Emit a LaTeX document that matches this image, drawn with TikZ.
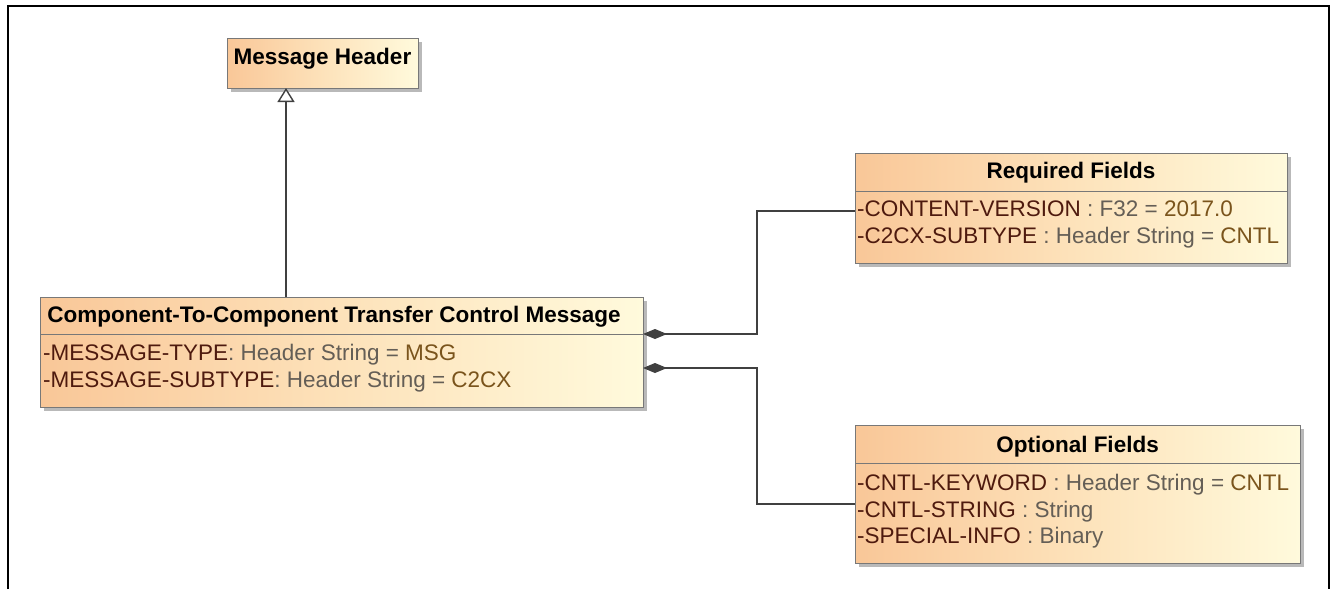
\documentclass[tikz,border=0pt]{standalone}
\usepackage{fontspec}
\setmainfont{Liberation Sans}
\usetikzlibrary{arrows.meta,shadows}
\definecolor{boxorange}{RGB}{249,199,152}
\definecolor{boxmid}{RGB}{253,226,186}
\definecolor{boxpale}{RGB}{255,250,220}
\definecolor{boxline}{RGB}{120,120,120}
\definecolor{linkc}{RGB}{64,64,64}
\definecolor{attrc}{RGB}{78,26,14}
\definecolor{typec}{RGB}{100,94,86}
\definecolor{valc}{RGB}{122,84,28}
\begin{document}
\begin{tikzpicture}[x=1pt,y=-1pt,
  cls/.style={draw=boxline, line width=0.9pt, left color=boxorange, right color=boxpale, middle color=boxmid,
    inner sep=0pt, outer sep=0pt, anchor=north west,
    drop shadow={shadow xshift=3.5pt, shadow yshift=-3.5pt, fill=black!50, opacity=0.55}},
  ttl/.style={font=\fontsize{22.5}{26}\selectfont\bfseries, inner sep=0pt, anchor=base},
  att/.style={font=\fontsize{22.5}{26}\selectfont, inner sep=0pt, anchor=base west},
  divl/.style={draw=boxline, line width=0.9pt},
  link/.style={draw=linkc, line width=1.4pt},
  comp/.style={link, {Diamond[length=24pt,width=10pt,fill=linkc]}-},
  gen/.style={link, -{Triangle[open,length=14pt,width=17pt,fill=white]}}
]
\useasboundingbox (0,0) rectangle (1335,589);
\fill[white] (0,0) rectangle (1335,589);
\draw[line width=2pt] (8,589) -- (8,6) -- (1329,6) -- (1329,589);

% boxes
\node[cls, minimum width=191pt, minimum height=50pt] (hdr) at (227,38) {};
\node[ttl] (hdrt) at (322.5,64) {Message Header};

\node[cls, minimum width=603pt, minimum height=110pt] (main) at (40,297) {};
\draw[divl] (40,334) -- (643,334);
\node[ttl] (maint) at (334,322) {Component-To-Component Transfer Control Message};
\node[att] (m1) at (43,360) {\textcolor{attrc}{-MESSAGE-TYPE}\textcolor{typec}{: Header String = }\textcolor{valc}{MSG}};
\node[att] (m2) at (43,387) {\textcolor{attrc}{-MESSAGE-SUBTYPE}\textcolor{typec}{: Header String = }\textcolor{valc}{C2CX}};

\node[cls, minimum width=432pt, minimum height=110pt] (req) at (855,153) {};
\draw[divl] (855,191) -- (1287,191);
\node[ttl] (reqt) at (1071,178) {Required Fields};
\node[att] (r1) at (857,216) {\textcolor{attrc}{-CONTENT-VERSION}\textcolor{typec}{\ : F32 = }\textcolor{valc}{2017.0}};
\node[att] (r2) at (857,243) {\textcolor{attrc}{-C2CX-SUBTYPE}\textcolor{typec}{\ : Header String = }\textcolor{valc}{CNTL}};

\node[cls, minimum width=445pt, minimum height=138pt] (opt) at (855,425) {};
\draw[divl] (855,463) -- (1300,463);
\node[ttl] (optt) at (1077.5,452) {Optional Fields};
\node[att] (o1) at (857,490) {\textcolor{attrc}{-CNTL-KEYWORD}\textcolor{typec}{\ : Header String = }\textcolor{valc}{CNTL}};
\node[att] (o2) at (857,517) {\textcolor{attrc}{-CNTL-STRING}\textcolor{typec}{\ : String}};
\node[att] (o3) at (857,543) {\textcolor{attrc}{-SPECIAL-INFO}\textcolor{typec}{\ : Binary}};

% helper coordinates
\coordinate (gx) at (286,0);
\coordinate (mx) at (757,0);
\coordinate (ya) at (0,334);
\coordinate (yb) at (0,368);
\coordinate (yr) at (0,211);
\coordinate (yo) at (0,504);

% connectors
\draw[gen] (main.north -| gx) -- (hdr.south -| gx);
\draw[comp] (main.east |- ya) -- (mx |- ya) -- (mx |- yr) -- (req.west |- yr);
\draw[comp] (main.east |- yb) -- (mx |- yb) -- (mx |- yo) -- (opt.west |- yo);
\end{tikzpicture}
\end{document}
